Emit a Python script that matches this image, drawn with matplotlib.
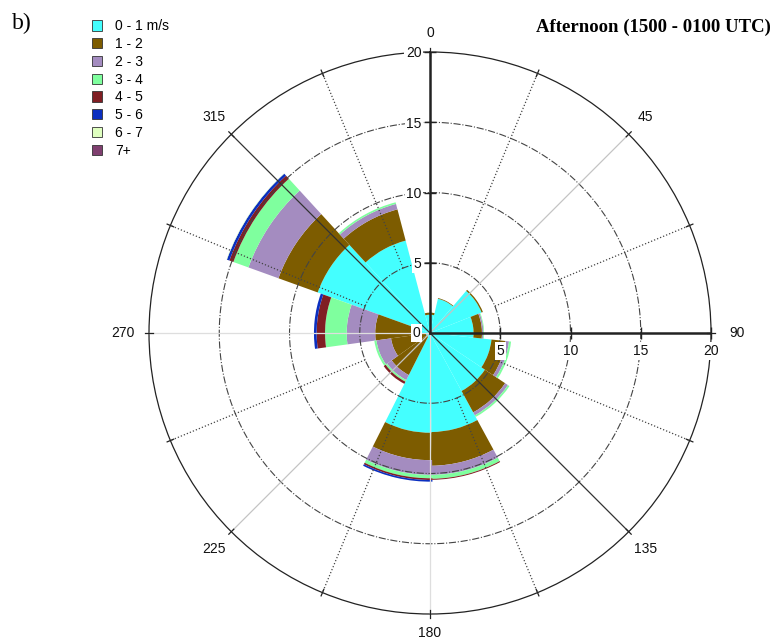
import numpy as np
import matplotlib.pyplot as plt
from matplotlib.patches import Patch

# Wedge centres (degrees clockwise from north) and common wedge width
sector_centres = [-0.9, 26.8, 54.5, 82.2, 109.9, 137.6, 165.3,
                  192.9, 220.6, 248.3, 276.0, 303.7, 331.4]
sector_width = 360.0 / 13

speed_labels = ['0 - 1 m/s', '1 - 2', '2 - 3', '3 - 4', '4 - 5', '5 - 6', '6 - 7', '7+']
speed_colors = ['#44FFFF', '#7D5C00', '#A48CC0', '#7FFF9E',
                '#801E23', '#0B2FC0', '#DFFFC0', '#7F3F6F']

# Frequency (%) of each speed class per sector
freq_0_1 = [1.30, 2.50, 3.95, 3.10, 4.40, 4.70, 7.05, 7.10, 0.30, 0.30, 1.20, 8.50, 6.80]
freq_1_2 = [0.15, 0.05, 0.10, 0.60, 1.00, 1.73, 2.40, 1.95, 3.05, 2.50, 2.70, 2.97, 2.30]
freq_2_3 = [0.00, 0.00, 0.00, 0.10, 0.25, 0.24, 0.65, 1.05, 0.40, 1.05, 2.03, 2.27, 0.40]
freq_3_4 = [0.00, 0.00, 0.00, 0.05, 0.15, 0.13, 0.28, 0.24, 0.13, 0.15, 1.54, 1.14, 0.12]
freq_4_5 = [0.00, 0.00, 0.00, 0.00, 0.00, 0.00, 0.07, 0.12, 0.17, 0.00, 0.60, 0.30, 0.00]
freq_5_6 = [0.00, 0.00, 0.00, 0.00, 0.00, 0.00, 0.00, 0.12, 0.00, 0.00, 0.19, 0.19, 0.00]
freq_6_7 = [0.00, 0.00, 0.00, 0.00, 0.00, 0.00, 0.00, 0.00, 0.00, 0.00, 0.00, 0.03, 0.00]
freq_7p  = [0.00, 0.00, 0.00, 0.00, 0.00, 0.00, 0.00, 0.00, 0.00, 0.00, 0.00, 0.00, 0.00]

direction_ticks = [0, 45, 90, 135, 180, 225, 270, 315]
radial_ticks = [5, 10, 15, 20]

title = 'Afternoon (1500 - 0100 UTC)'
panel_tag = 'b)'

fig = plt.figure(figsize=(7.73, 6.42), dpi=100)
ax = fig.add_axes([0.19276, 0.04361, 0.72704, 0.87539], projection='polar')
ax.set_theta_zero_location('N')
ax.set_theta_direction(-1)
ax.set_ylim(0, 20)
ax.grid(False)
ax.set_xticks([])
ax.set_yticks([])
ax.spines['polar'].set_linewidth(0.9)
ax.spines['polar'].set_color('#222222')

# stacked wedges
theta = np.deg2rad(sector_centres)
width = np.deg2rad(sector_width)
bottom = np.zeros(len(sector_centres))
for vals, col in zip([freq_0_1, freq_1_2, freq_2_3, freq_3_4,
                      freq_4_5, freq_5_6, freq_6_7, freq_7p], speed_colors):
    vals = np.asarray(vals)
    ax.bar(theta, vals, width=width, bottom=bottom, color=col,
           linewidth=0, align='center', zorder=2)
    bottom += vals

# concentric rings
ring_t = np.linspace(0, 2 * np.pi, 400)
for r in radial_ticks[:-1]:
    ax.plot(ring_t, np.full_like(ring_t, r), color='#444444', lw=0.8,
            ls='-.', zorder=3)

# spokes
for d in np.arange(22.5, 360, 45):
    ax.plot([np.deg2rad(d)] * 2, [5, 20], color='#444444', lw=0.9,
            ls=(0, (1, 1.6)), zorder=3)
for d in (45, 225):
    ax.plot([np.deg2rad(d)] * 2, [0, 20], color='#c4c4c4', lw=0.9, zorder=3)
for d in (180, 270):
    ax.plot([np.deg2rad(d)] * 2, [0, 20], color='#dedede', lw=0.9, zorder=3)
for d in (135, 315):
    ax.plot([np.deg2rad(d)] * 2, [0, 20], color='#333333', lw=0.9, zorder=3)
for d in (0, 90):
    ax.plot([np.deg2rad(d)] * 2, [0, 20], color='#222222', lw=1.8, zorder=4)

# small ticks on the outer circle
for d in np.arange(0, 360, 22.5):
    ax.plot([np.deg2rad(d)] * 2, [19.75, 20.25], color='#222222', lw=0.9,
            zorder=4, clip_on=False)

# radial scale ticks on the north and east axes
ax.plot([0] * len(radial_ticks), radial_ticks, ls='none', marker='_',
        ms=8, mew=1.0, color='#222222', zorder=4, clip_on=False)
ax.plot([np.pi / 2] * len(radial_ticks), radial_ticks, ls='none', marker='|',
        ms=8, mew=1.0, color='#222222', zorder=4, clip_on=False)

lab_font = dict(family='Liberation Sans', fontsize=10, color='#111111')
box = dict(boxstyle='square,pad=0.12', fc='white', ec='none')
for r in radial_ticks:
    ax.annotate(str(r), xy=(0, r), xytext=(-6, -1), textcoords='offset points',
                ha='right', va='center', bbox=box, zorder=5, **lab_font)
    ax.annotate(str(r), xy=(np.pi / 2, r), xytext=(0, -8),
                textcoords='offset points', ha='center', va='top',
                bbox=box, zorder=5, **lab_font)
ax.annotate('0', xy=(0, 0), xytext=(-7, 0), textcoords='offset points',
            ha='right', va='center', bbox=box, zorder=5, **lab_font)

for d in direction_ticks:
    t = np.deg2rad(d)
    ax.text(t, 21.35 + 0.5 * abs(np.sin(t)), str(d), ha='center',
            va='center', clip_on=False, **lab_font)

# legend
handles = [Patch(facecolor=c, edgecolor='#333333', linewidth=0.6)
           for c in speed_colors]
fig.legend(handles, speed_labels, loc='upper left',
           bbox_to_anchor=(0.119, 0.97), frameon=False,
           prop={'family': 'Liberation Sans', 'size': 10},
           handlelength=0.75, handleheight=0.75, handletextpad=0.9,
           labelspacing=0.27, borderaxespad=0, borderpad=0)

fig.text(0.997, 1 - 27 / 642, title, ha='right', va='center',
         fontsize=13.5, fontweight='bold', family='Liberation Serif')
fig.text(0.016, 1 - 23 / 642, panel_tag, ha='left', va='center',
         fontsize=17, family='Liberation Serif')

fig.savefig('out.png', dpi=100)
